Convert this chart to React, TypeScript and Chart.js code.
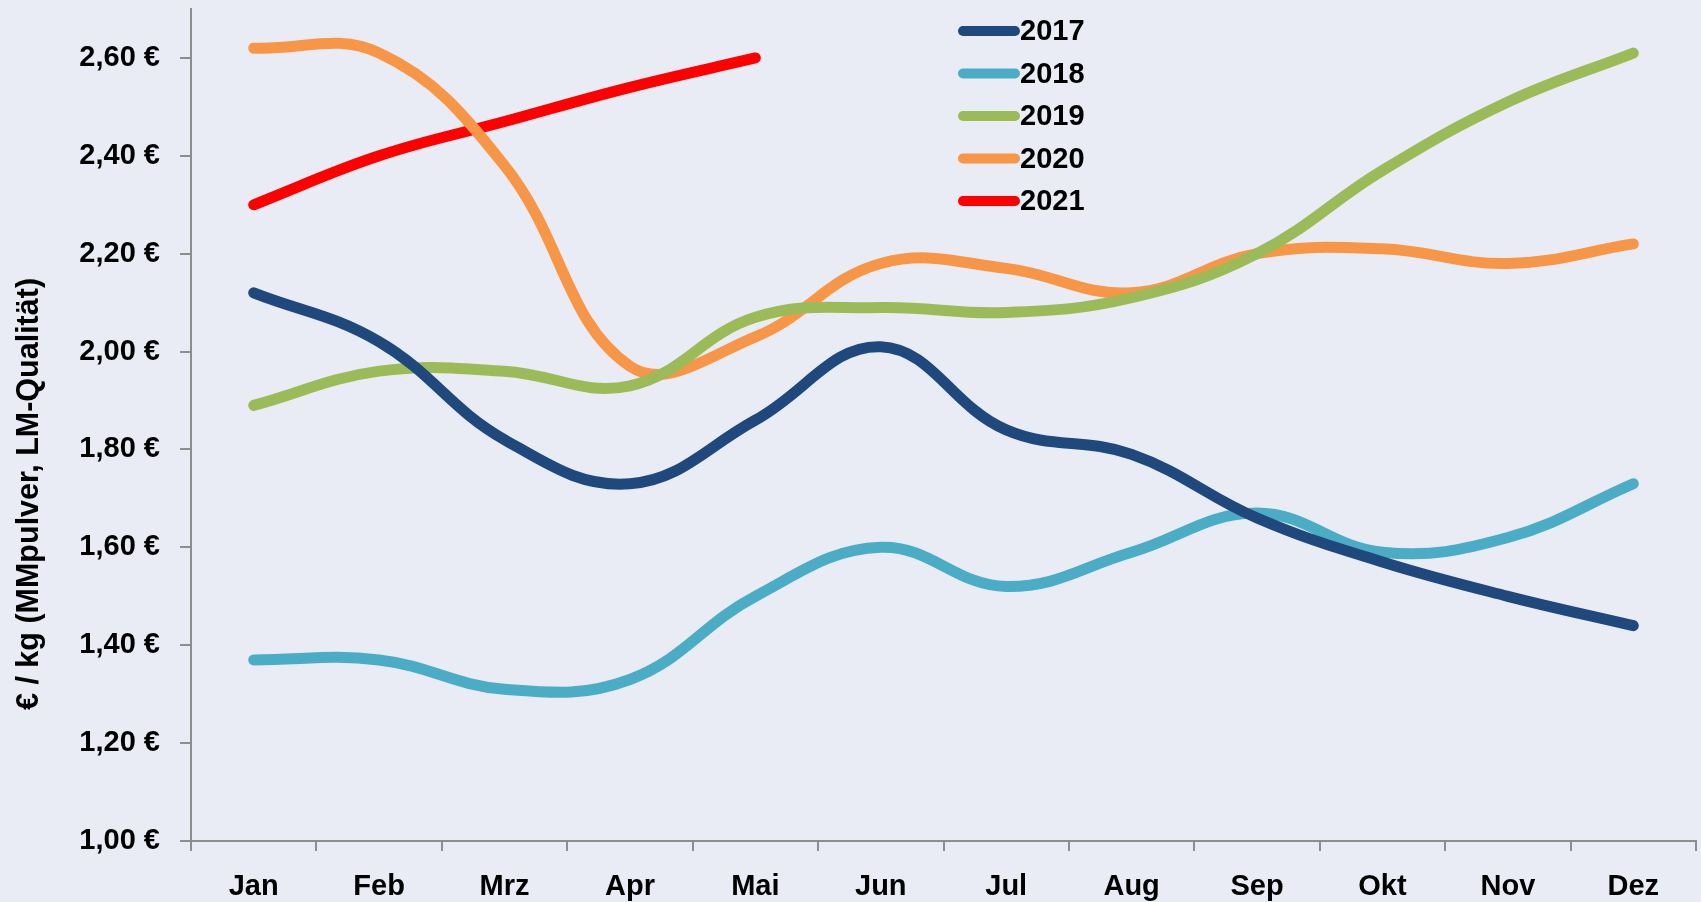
import React, { useEffect, useRef } from "react";
import { Chart, registerables } from "chart.js";

Chart.register(...registerables);

const months = ["Jan", "Feb", "Mrz", "Apr", "Mai", "Jun", "Jul", "Aug", "Sep", "Okt", "Nov", "Dez"];
const yearLabels = ["2017", "2018", "2019", "2020", "2021"];
const y2017 = [2.12, 2.02, 1.82, 1.73, 1.86, 2.01, 1.84, 1.79, 1.66, 1.57, 1.5, 1.44];
const y2018 = [1.37, 1.37, 1.31, 1.33, 1.5, 1.6, 1.52, 1.59, 1.67, 1.59, 1.62, 1.73];
const y2019 = [1.89, 1.96, 1.96, 1.93, 2.07, 2.09, 2.08, 2.11, 2.2, 2.37, 2.51, 2.61];
const y2020 = [2.62, 2.61, 2.38, 1.97, 2.03, 2.18, 2.17, 2.12, 2.2, 2.21, 2.18, 2.22];
const y2021 = [2.3, 2.4, 2.47, 2.54, 2.6];
const colors = ["#1F497D", "#4BACC6", "#9BBB59", "#F79646", "#FF0000"];
const yTitle = "€ / kg (MMpulver, LM-Qualität)";
const yMin = 1.0;
const yMax = 2.7;
const yStep = 0.2;

const FONT = "'Liberation Sans', Arial, sans-serif";
const BG = "#E9ECF5";
const AXIS = "#8E8E8E";

const bgPlugin = {
  id: "bgFill",
  beforeDraw(chart: any) {
    const { ctx, width, height } = chart;
    ctx.save();
    ctx.fillStyle = BG;
    ctx.fillRect(0, 0, width, height);
    ctx.restore();
  },
};

const titlePlugin = {
  id: "yTitle",
  afterDraw(chart: any) {
    const { ctx } = chart;
    ctx.save();
    ctx.translate(30, 494);
    ctx.rotate(-Math.PI / 2);
    ctx.fillStyle = "#000";
    ctx.font = `bold 30.5px ${FONT}`;
    ctx.textAlign = "center";
    ctx.textBaseline = "middle";
    ctx.fillText(yTitle, 0, 0);
    ctx.restore();
  },
};

const legendPlugin = {
  id: "customLegend",
  afterDraw(chart: any) {
    const { ctx } = chart;
    ctx.save();
    const x0 = 963;
    const x1 = 1015;
    const y0 = 31;
    const step = 42.5;
    chart.data.datasets.forEach((ds: any, i: number) => {
      const y = y0 + i * step;
      ctx.strokeStyle = ds.borderColor;
      ctx.lineWidth = 10;
      ctx.lineCap = "round";
      ctx.beginPath();
      ctx.moveTo(x0, y);
      ctx.lineTo(x1, y);
      ctx.stroke();
      ctx.fillStyle = "#000";
      ctx.font = `bold 29px ${FONT}`;
      ctx.textBaseline = "middle";
      ctx.textAlign = "left";
      ctx.fillText(ds.label, 1020, y + 1);
    });
    ctx.restore();
  },
};

export default function App() {
  const ref = useRef<HTMLCanvasElement>(null);
  useEffect(() => {
    if (!ref.current) return;
    const series = [y2017, y2018, y2019, y2020, y2021];
    const chart = new Chart(ref.current, {
      type: "line",
      data: {
        labels: months,
        datasets: series.map((d, i) => ({
          label: yearLabels[i],
          data: d,
          borderColor: colors[i],
          backgroundColor: colors[i],
          borderWidth: 11,
          borderCapStyle: "round",
          borderJoinStyle: "round",
          pointRadius: 0,
          tension: 0.4,
          fill: false,
        })),
      },
      options: {
        animation: false,
        responsive: false,
        maintainAspectRatio: false,
        layout: { padding: { left: 0, top: 9, right: 5, bottom: 0 } },
        plugins: {
          legend: { display: false },
          tooltip: { enabled: false },
        },
        scales: {
          x: {
            type: "category",
            offset: true,
            afterFit(scale: any) {
              scale.height = 61;
              scale.paddingLeft = 0;
              scale.paddingRight = 0;
            },
            border: { display: true, color: AXIS, width: 2 },
            grid: {
              display: true,
              drawOnChartArea: false,
              drawTicks: true,
              tickLength: 10,
              color: AXIS,
              lineWidth: 2,
              offset: true,
            },
            ticks: {
              color: "#000",
              padding: 19,
              maxRotation: 0,
              autoSkip: false,
              font: { family: FONT, size: 29, weight: "bold" },
            },
          },
          y: {
            min: yMin,
            max: yMax,
            afterFit(scale: any) {
              scale.width = 191;
              scale.paddingTop = 0;
              scale.paddingBottom = 0;
            },
            afterBuildTicks(scale: any) {
              scale.ticks = scale.ticks.filter((t: any) => t.value <= 2.6 + 1e-9);
            },
            border: { display: true, color: AXIS, width: 2 },
            grid: {
              display: true,
              drawOnChartArea: false,
              drawTicks: true,
              tickLength: 11,
              color: AXIS,
              lineWidth: 2,
            },
            ticks: {
              stepSize: yStep,
              color: "#000",
              padding: 20,
              font: { family: FONT, size: 29, weight: "bold" },
              callback: (v: any) => Number(v).toFixed(2).replace(".", ",") + " €",
            },
          },
        },
      },
      plugins: [bgPlugin, legendPlugin, titlePlugin],
    } as any);
    return () => chart.destroy();
  }, []);
  return (
    <div style={{ position: "fixed", left: 0, top: 0, width: 1701, height: 902, background: BG }}>
      <canvas ref={ref} width={1701} height={902} style={{ display: "block", width: 1701, height: 902 }} />
    </div>
  );
}
